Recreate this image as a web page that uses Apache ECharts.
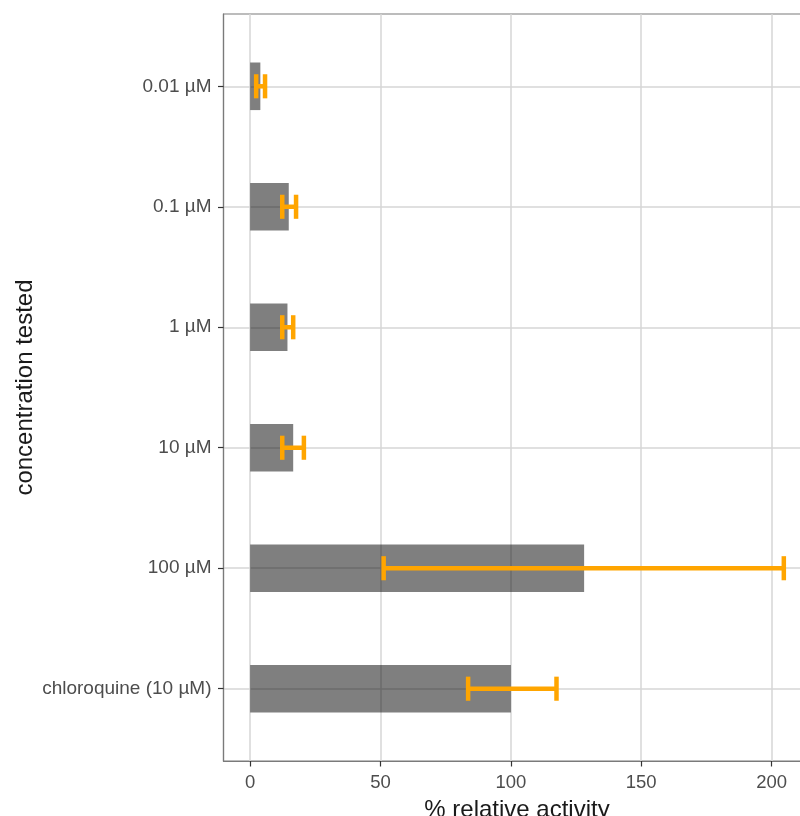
<!DOCTYPE html>
<html><head><meta charset="utf-8">
<script src="https://cdn.jsdelivr.net/npm/echarts@6/dist/echarts.min.js"></script>
<style>html,body{margin:0;padding:0;background:#fff}#c{width:800px;height:816px}</style>
</head><body><div id="c"></div>
<script>
const categories = ['0.01 µM', '0.1 µM', '1 µM', '10 µM', '100 µM', 'chloroquine (10 µM)'];
const activity = [3.9, 14.8, 14.3, 16.5, 128.1, 100];
const errLow = [2.3, 12.3, 12.3, 12.3, 51.2, 83.6];
const errHigh = [5.7, 17.6, 16.5, 20.6, 204.7, 117.5];
const xTickValues = [0, 50, 100, 150, 200];
const xTitle = '% relative activity';
const yTitle = 'concentration tested';

const catPos = categories.map((c, i) => i + 1);
const barData = categories.map((c, i) => [catPos[i], activity[i]]);
const errData = categories.map((c, i) => [catPos[i], errLow[i], errHigh[i]]);

const FONT = "'Liberation Sans', Arial, sans-serif";
const chart = echarts.init(document.getElementById('c'));
chart.setOption({
  animation: false,
  backgroundColor: '#ffffff',
  grid: { left: 223.5, top: 14, width: 587, height: 747, show: true, borderColor: '#7a7a7a', borderWidth: 1.2,
    containLabel: false, outerBoundsMode: 'none' },
  xAxis: {
    type: 'value', min: -10.235, max: 214.935,
    name: xTitle, nameLocation: 'middle', nameGap: 37, nameMoveOverlap: false,
    nameTextStyle: { fontFamily: FONT, fontSize: 24, color: '#1a1a1a' },
    axisLine: { show: true, onZero: false, lineStyle: { color: '#7a7a7a', width: 1.2 } },
    axisTick: { show: true, length: 5.5, customValues: xTickValues, lineStyle: { color: '#333', width: 1.2 } },
    axisLabel: { customValues: xTickValues, margin: 12, fontFamily: FONT, fontSize: 18.5, color: '#4d4d4d' },
    splitLine: { show: true, lineStyle: { color: '#d6d6d6', width: 1.5 } }
  },
  yAxis: {
    type: 'value', inverse: true, min: 0.4, max: 6.6,
    name: yTitle, nameLocation: 'middle', nameGap: 186, nameRotate: 90, nameMoveOverlap: false,
    nameTextStyle: { fontFamily: FONT, fontSize: 24, color: '#1a1a1a' },
    axisLine: { show: true, onZero: false, lineStyle: { color: '#7a7a7a', width: 1.2 } },
    axisTick: { show: true, length: 5.5, customValues: catPos, lineStyle: { color: '#333', width: 1.2 } },
    axisLabel: { customValues: catPos, margin: 12, fontFamily: FONT, fontSize: 19, color: '#4d4d4d',
      formatter: v => (Number.isInteger(v) && v >= 1 && v <= categories.length) ? categories[v - 1] : '' },
    splitLine: { show: true, lineStyle: { color: '#d6d6d6', width: 1.5 } }
  },
  series: [
    {
      type: 'custom', name: 'activity', data: barData,
      encode: { x: 1, y: 0 }, z: 2,
      renderItem: (params, api) => {
        const y = api.value(0), v = api.value(1);
        const p0 = api.coord([0, y]);
        const p1 = api.coord([v, y]);
        const h = api.size([0, 0.395])[1];
        return { type: 'rect', shape: { x: p0[0], y: p0[1] - h / 2, width: p1[0] - p0[0], height: h },
          style: { fill: 'rgba(0,0,0,0.5)' } };
      }
    },
    {
      type: 'custom', name: 'error', data: errData,
      encode: { x: [1, 2], y: 0 }, z: 3,
      renderItem: (params, api) => {
        const y = api.value(0);
        const a = api.coord([api.value(1), y]);
        const b = api.coord([api.value(2), y]);
        const hh = api.size([0, 0.1])[1];
        const st = { stroke: '#FFA500', lineWidth: 4.5, lineCap: 'butt' };
        return { type: 'group', children: [
          { type: 'line', shape: { x1: a[0], y1: a[1], x2: b[0], y2: b[1] }, style: st },
          { type: 'line', shape: { x1: a[0], y1: a[1] - hh, x2: a[0], y2: a[1] + hh }, style: st },
          { type: 'line', shape: { x1: b[0], y1: b[1] - hh, x2: b[0], y2: b[1] + hh }, style: st }
        ] };
      }
    }
  ]
});
</script>
</body></html>
